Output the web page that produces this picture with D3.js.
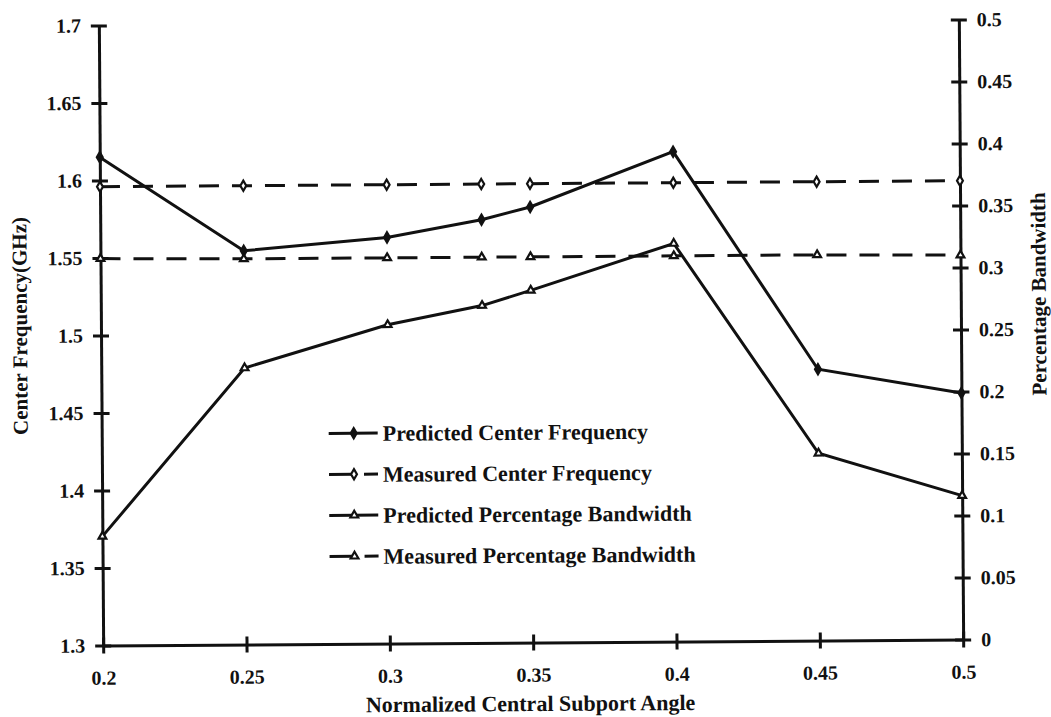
<!DOCTYPE html>
<html>
<head>
<meta charset="utf-8">
<script src="https://cdn.jsdelivr.net/npm/d3@7/dist/d3.min.js"></script>
<style>
  html, body { margin: 0; padding: 0; background: #fff; }
  svg { display: block; }
  text { font-family: "Liberation Serif", "Times New Roman", serif; font-weight: bold; fill: #111; }
</style>
</head>
<body>
<svg id="chart" width="1051" height="717"></svg>
<script>
// Normalized central subport angle (x values)
const angles = [0.2, 0.25, 0.3, 0.333, 0.35, 0.4, 0.45, 0.5];
// Center frequency in GHz (left axis)
const predictedFreq = [1.615, 1.554, 1.562, 1.573, 1.581, 1.616, 1.475, 1.459];
const measuredFreq  = [1.596, 1.596, 1.596, 1.596, 1.596, 1.596, 1.596, 1.596];
// Percentage bandwidth (right axis)
const predictedBW = [0.088, 0.223, 0.257, 0.272, 0.284, 0.321, 0.151, 0.116];
const measuredBW  = [0.312, 0.311, 0.311, 0.311, 0.311, 0.311, 0.311, 0.310];
// Tick values
const xTicks = [0.2, 0.25, 0.3, 0.35, 0.4, 0.45, 0.5];
const leftTicks = [1.3, 1.35, 1.4, 1.45, 1.5, 1.55, 1.6, 1.65, 1.7];
const rightTicks = [0, 0.05, 0.1, 0.15, 0.2, 0.25, 0.3, 0.35, 0.4, 0.45, 0.5];
const legendLabels = [
  "Predicted Center Frequency",
  "Measured Center Frequency",
  "Predicted Percentage Bandwidth",
  "Measured Percentage Bandwidth"
];

const svg = d3.select("#chart");
const plot = { left: 101, right: 961, top: 22.5, bottom: 642.5 };
const root = svg.append("g")
  .attr("transform", `rotate(-0.4, ${(plot.left + plot.right) / 2}, ${(plot.top + plot.bottom) / 2})`);

const x = d3.scaleLinear().domain([0.2, 0.5]).range([plot.left, plot.right]);
const yL = d3.scaleLinear().domain([1.3, 1.7]).range([plot.bottom, plot.top]);
const yR = d3.scaleLinear().domain([0, 0.5]).range([plot.bottom, plot.top]);

const fmt = d => String(+d.toFixed(2));
const TICK = 8;

// Axes with ticks crossing the line on both sides
const xAxis = root.append("g").attr("transform", `translate(0,${plot.bottom})`)
  .call(d3.axisBottom(x).tickValues(xTicks).tickFormat(fmt).tickSizeInner(TICK).tickSizeOuter(0).tickPadding(17));
xAxis.selectAll(".tick line").attr("y1", -TICK);

const lAxis = root.append("g").attr("transform", `translate(${plot.left},0)`)
  .call(d3.axisLeft(yL).tickValues(leftTicks).tickFormat(fmt).tickSizeInner(TICK).tickSizeOuter(0).tickPadding(10));
lAxis.selectAll(".tick line").attr("x1", TICK);

const rAxis = root.append("g").attr("transform", `translate(${plot.right},0)`)
  .call(d3.axisRight(yR).tickValues(rightTicks).tickFormat(fmt).tickSizeInner(TICK).tickSizeOuter(0).tickPadding(10));
rAxis.selectAll(".tick line").attr("x1", -TICK);

[xAxis, lAxis, rAxis].forEach(a => {
  a.select(".domain").attr("stroke", "#111").attr("stroke-width", 3);
  a.selectAll(".tick line").attr("stroke", "#111").attr("stroke-width", 3);
  a.selectAll(".tick text").style("font-size", "20px").attr("fill", "#111");
});

// Axis titles
root.append("text")
  .attr("transform", `translate(27,${(plot.top + plot.bottom) / 2 - 10}) rotate(-90)`)
  .attr("text-anchor", "middle").style("font-size", "21px")
  .text("Center Frequency(GHz)");
root.append("text")
  .attr("transform", `translate(1046,${(plot.top + plot.bottom) / 2 - 35}) rotate(-90)`)
  .attr("text-anchor", "middle").style("font-size", "21px")
  .text("Percentage Bandwidth");
root.append("text")
  .attr("x", 528).attr("y", 711)
  .attr("text-anchor", "middle").style("font-size", "22px")
  .text("Normalized Central Subport Angle");

// Series definitions
const series = [
  { values: predictedFreq, y: yL, dash: null, marker: "diamond", fill: "#111" },
  { values: measuredFreq, y: yL, dash: "20,13", marker: "diamond", fill: "#fff" },
  { values: predictedBW, y: yR, dash: null, marker: "triangle", fill: "#fff" },
  { values: measuredBW, y: yR, dash: "20,13", marker: "triangle", fill: "#fff" }
];

const symbols = {
  diamond: d3.symbol().type(d3.symbolDiamond).size(30),
  triangle: d3.symbol().type(d3.symbolTriangle).size(26)
};

series.forEach(s => {
  const pts = angles.map((a, i) => [a, s.values[i]]);
  const line = d3.line().x(d => x(d[0])).y(d => s.y(d[1]));
  root.append("path")
    .datum(pts)
    .attr("d", line)
    .attr("fill", "none")
    .attr("stroke", "#111")
    .attr("stroke-width", 3)
    .attr("stroke-dasharray", s.dash);
  root.append("g").selectAll("path")
    .data(pts)
    .join("path")
    .attr("transform", d => `translate(${x(d[0])},${s.y(d[1])})`)
    .attr("d", symbols[s.marker])
    .attr("fill", s.fill)
    .attr("stroke", "#111")
    .attr("stroke-width", 2.2);
});

// Legend
const legend = root.append("g").attr("transform", "translate(328,432)");
const rowGap = 41;
series.forEach((s, i) => {
  const row = legend.append("g").attr("transform", `translate(0,${i * rowGap})`);
  if (s.dash) {
    row.append("line").attr("x1", 0).attr("x2", 24).attr("y1", 0).attr("y2", 0)
      .attr("stroke", "#111").attr("stroke-width", 3);
    row.append("line").attr("x1", 35).attr("x2", 49).attr("y1", 0).attr("y2", 0)
      .attr("stroke", "#111").attr("stroke-width", 3);
  } else {
    row.append("line").attr("x1", 0).attr("x2", 49).attr("y1", 0).attr("y2", 0)
      .attr("stroke", "#111").attr("stroke-width", 3);
  }
  row.append("path")
    .attr("transform", "translate(25,0)")
    .attr("d", symbols[s.marker])
    .attr("fill", s.fill)
    .attr("stroke", "#111")
    .attr("stroke-width", 2.2);
  row.append("text")
    .attr("x", 54).attr("y", 0).attr("dy", "0.35em")
    .style("font-size", "22px")
    .text(legendLabels[i]);
});
</script>
</body>
</html>
